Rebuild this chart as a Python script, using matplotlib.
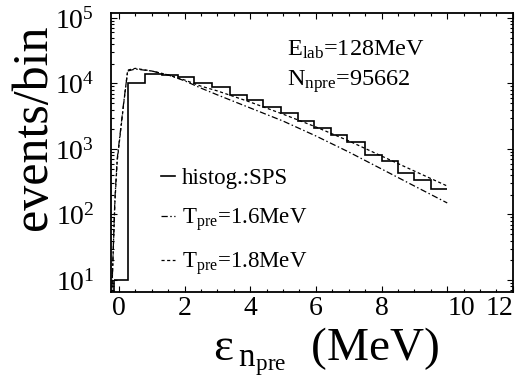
import matplotlib
matplotlib.use("Agg")
import matplotlib.pyplot as plt
from matplotlib.ticker import MultipleLocator, LogLocator, NullFormatter

plt.rcParams['font.family'] = ['Liberation Serif', 'DejaVu Serif']
plt.rcParams['mathtext.fontset'] = 'custom'
plt.rcParams['mathtext.rm'] = 'Liberation Serif'
plt.rcParams['mathtext.it'] = 'Liberation Serif:italic'
plt.rcParams['mathtext.bf'] = 'Liberation Serif:bold'

# simulated spectrum (SPS), pre-equilibrium neutron energy bins in MeV
bin_edges = [-0.15, 0.27, 0.8, 1.3, 1.8, 2.3, 2.85, 3.4, 3.9, 4.4, 4.95,
             5.45, 5.95, 6.45, 6.95, 7.5, 8.0, 8.5, 9.0, 9.5, 10.0]
counts = [10, 10200, 13960, 13500, 12600, 10200, 8840, 6670, 5600, 4380,
          3550, 2680, 2090, 1640, 1280, 810, 656, 430, 337, 245]

# moving-source fits for two temperatures
energy = [-0.22, -0.12, -0.05, 0.05, 0.15, 0.27, 0.5, 1.0, 1.5, 2.0, 2.5,
          3.0, 4.0, 5.0, 6.0, 7.0, 8.0, 9.0, 10.0]
fit_t16 = [5, 170, 700, 1900, 5200, 15500, 16600, 15500, 13500, 11000, 8500,
           6700, 4230, 2670, 1580, 900, 495, 272, 150]
fit_t18 = [5, 150, 650, 1800, 5000, 16000, 17000, 15500, 13500, 11300, 9100,
           7700, 5200, 3400, 2170, 1330, 780, 460, 272]

x_ticks = [0, 2, 4, 6, 8, 10, 12]
y_ticks = [1e1, 1e2, 1e3, 1e4, 1e5]
y_tick_labels = [r'$10^{1}$', r'$10^{2}$', r'$10^{3}$', r'$10^{4}$', r'$10^{5}$']

fig = plt.figure(figsize=(5.16, 3.77), dpi=100)
ax = fig.add_axes([0.215, 0.2255, 0.779, 0.740])

ax.stairs(counts, bin_edges, baseline=None, color='k', lw=1.2,
          label='histog.:SPS')
ax.vlines(bin_edges[0], 1, counts[0], color='k', lw=1.2)
ax.plot(energy, fit_t16, color='k', lw=0.9, ls=(0, (5, 2, 1.2, 2)),
        label=r'T$_{\mathrm{pre}}$=1.6MeV')
ax.plot(energy, fit_t18, color='k', lw=0.9, ls=(0, (2.5, 2)),
        label=r'T$_{\mathrm{pre}}$=1.8MeV')

ax.set_yscale('log')
ax.set_xlim(-0.24, 12)
ax.set_ylim(6.56, 1.19e5)
ax.set_xticks(x_ticks)
ax.xaxis.set_minor_locator(MultipleLocator(0.5))
ax.set_yticks(y_ticks)
ax.set_yticklabels(y_tick_labels)
ax.yaxis.set_minor_locator(LogLocator(base=10, subs=range(2, 10)))
ax.yaxis.set_minor_formatter(NullFormatter())
ax.tick_params(which='both', direction='in', top=True, right=True,
               labelsize=20, width=0.8)
ax.tick_params(which='major', length=4)
ax.tick_params(which='minor', length=2)
ax.tick_params(axis='x', pad=3)
ax.tick_params(axis='y', pad=12)
xlabels = ax.get_xticklabels()
xlabels[-1].set_horizontalalignment('right')
xlabels[-2].set_horizontalalignment('left')
for side in ax.spines.values():
    side.set_linewidth(1.3)

ax.text(0.438, 0.867, r'E$_{\mathrm{lab}}$=128MeV', transform=ax.transAxes,
        fontsize=17.5, va='center', ha='left')
ax.text(0.438, 0.753, r'N$_{\mathrm{npre}}$=95662', transform=ax.transAxes,
        fontsize=17.5, va='center', ha='left')

ax.legend(loc='upper left', bbox_to_anchor=(0.125, 0.445), frameon=False,
          fontsize=16.5, handlelength=0.6, handletextpad=0.3,
          labelspacing=0.75, borderpad=0, borderaxespad=0)

fig.text(34 / 516, 1 - 127 / 377, 'events/bin', rotation=90, fontsize=36,
         ha='center', va='center')
fig.text(326 / 516, 1 - 352 / 377,
         r'$\mathrm{\varepsilon}\,{}_{\mathrm{n}_{\mathrm{pre}}}$  (MeV)',
         fontsize=34, ha='center', va='center')

fig.savefig('out.png', dpi=100)
